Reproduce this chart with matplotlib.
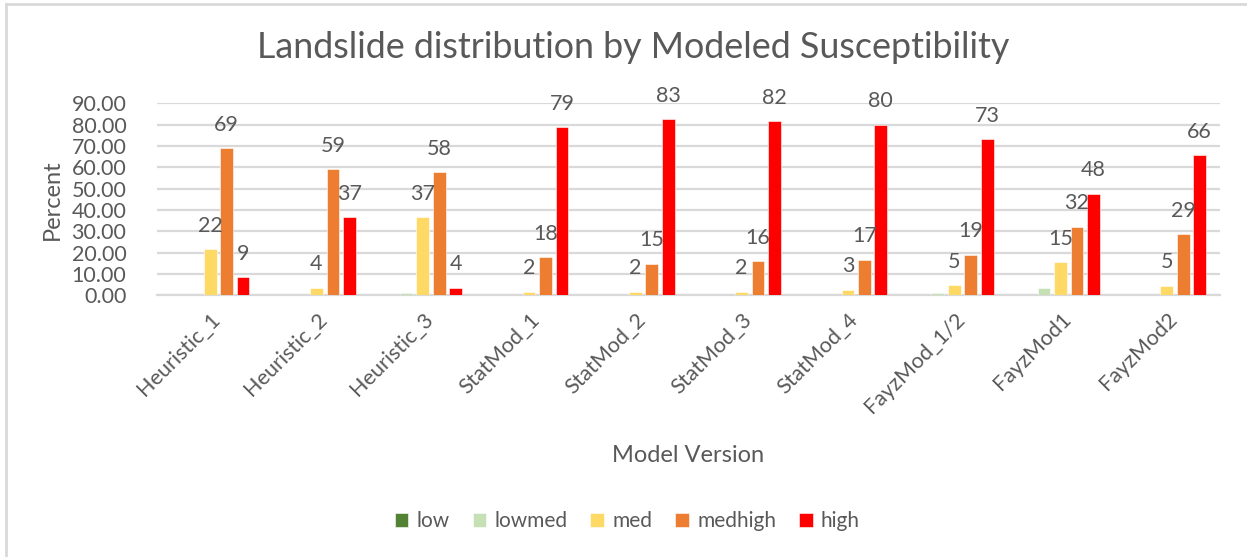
import numpy as np
import matplotlib.pyplot as plt
from matplotlib.lines import Line2D

plt.rcParams['font.family'] = ['Lato', 'DejaVu Sans']

# model versions and percent of landslides falling in each susceptibility class
modelos = ['Heuristic_1', 'Heuristic_2', 'Heuristic_3', 'StatMod_1', 'StatMod_2',
           'StatMod_3', 'StatMod_4', 'FayzMod_1/2', 'FayzMod1', 'FayzMod2']
clases = ['low', 'lowmed', 'med', 'medhigh', 'high']

low     = [0.0, 0.0, 0.0, 0.0, 0.0, 0.0, 0.0, 0.0, 0.0, 0.0]
lowmed  = [0.0, 0.0, 1.1, 0.0, 0.0, 0.0, 0.0, 1.1, 3.4, 0.0]
med     = [21.6, 3.6, 36.6, 1.7, 1.7, 1.7, 2.6, 4.8, 15.4, 4.6]
medhigh = [68.9, 59.1, 57.8, 17.8, 14.7, 15.9, 16.6, 19.0, 32.2, 28.6]
high    = [8.6, 36.6, 3.5, 78.8, 82.6, 81.6, 80.0, 73.1, 47.6, 65.6]

colores = ['#548235', '#c5e0b4', '#ffd966', '#ed7d31', '#ff0000']
gris = '#595959'

series = [low, lowmed, med, medhigh, high]
con_etiqueta = [False, False, True, True, True]

fig = plt.figure(figsize=(12.47, 5.57), dpi=100)
ax = fig.add_axes([0.1259, 0.4698, 0.8524, 0.3447])

x = np.arange(len(modelos))
paso = 0.155
ancho = 0.12

for i, (vals, col, nombre) in enumerate(zip(series, colores, clases)):
    pos = x + (i - 2) * paso
    ax.bar(pos, vals, ancho, color=col, label=nombre, zorder=3,
           edgecolor='white', linewidth=0.4)
    if con_etiqueta[i]:
        for xp, v in zip(pos, vals):
            ax.text(xp, v + 11, '%.0f' % v, ha='center', va='center',
                    fontsize=15.5, color=gris, zorder=4)

ax.set_xlim(-0.5, len(modelos) - 0.5)
ax.set_ylim(0, 90)
ax.set_yticks(np.arange(0, 91, 10))
ax.set_yticklabels(['%.2f' % t for t in np.arange(0, 91, 10)])
ax.yaxis.grid(True, color='#d9d9d9', linewidth=1.6, zorder=0)
for s in ['top', 'right', 'left']:
    ax.spines[s].set_visible(False)
ax.spines['bottom'].set_color('#d9d9d9')
ax.spines['bottom'].set_linewidth(1.6)
ax.tick_params(axis='both', length=0, labelsize=15.5, colors=gris)
ax.tick_params(axis='y', pad=22)

ax.set_xticks(x)
ax.set_xticklabels(modelos, rotation=45, ha='right', rotation_mode='anchor')
ax.tick_params(axis='x', pad=10)

ax.set_ylabel('Percent', fontsize=17, color=gris, labelpad=6)
ax.set_xlabel('Model Version', fontsize=17, color=gris, labelpad=20)

fig.text(0.508, 0.915, 'Landslide distribution by Modeled Susceptibility',
         ha='center', va='center', fontsize=25.8, color=gris)

fig.legend(loc='center', bbox_to_anchor=(0.503, 0.064), ncol=5, frameon=False,
           fontsize=15, handlelength=0.65, handleheight=0.65, handletextpad=0.4,
           columnspacing=1.1, labelcolor=gris)

# marco del grafico (solo borde superior e izquierdo quedan dentro de la imagen)
fig.add_artist(Line2D([0.005, 0.005], [0.0, 0.992], transform=fig.transFigure,
                      color='#d9d9d9', linewidth=2))
fig.add_artist(Line2D([0.005, 1.0], [0.992, 0.992], transform=fig.transFigure,
                      color='#d9d9d9', linewidth=2))

fig.savefig('out.png', dpi=100)
